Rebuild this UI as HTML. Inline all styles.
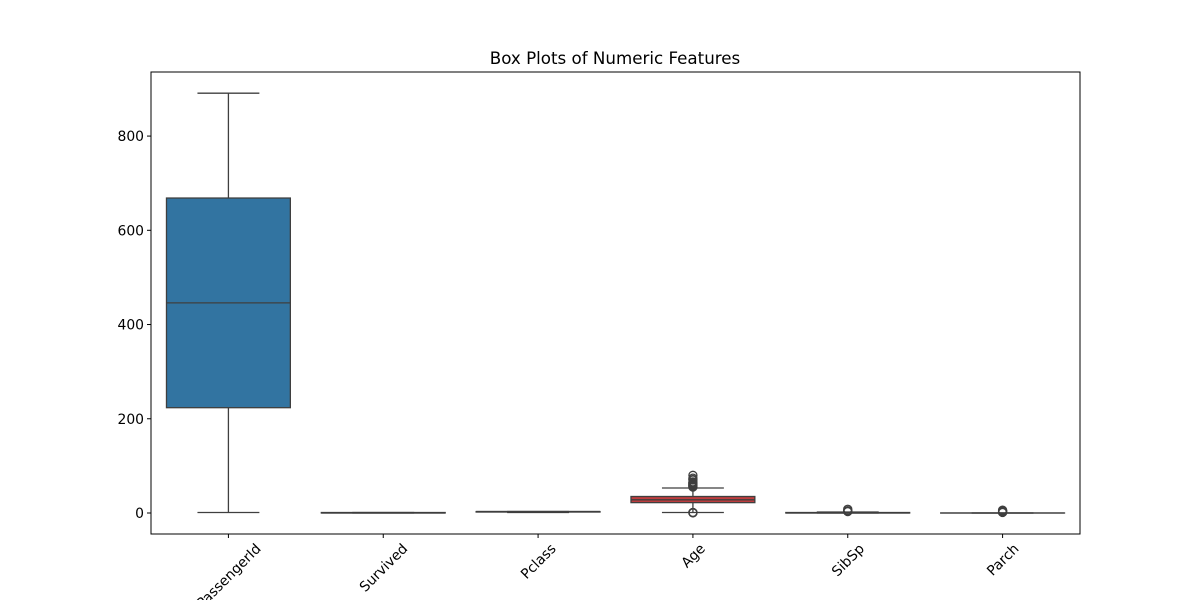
<!DOCTYPE html>
<html><head><meta charset="utf-8"><style>
body{margin:0;background:#fff}
svg{display:block;font-family:"DejaVu Sans","Liberation Sans",sans-serif}
</style></head><body>
<svg id="c" width="1200" height="600">
<rect width="1200" height="600" fill="#fff"/>
<text x="615" y="64" text-anchor="middle" font-size="16.7" fill="#000">Box Plots of Numeric Features</text>
</svg>
<script>
const categories=["PassengerId","Survived","Pclass","Age","SibSp","Parch"];
const q1=[223.5,0,2,22,0,0];
const med=[446,0,3,28,0,0];
const q3=[668.5,1,3,35,1,0];
const whisLo=[1,0,1,1,0,0];
const whisHi=[891,1,3,53,2,0];
const outliers=[[],[],[],[0.42,0.67,0.75,0.83,0.92,55,56,57,58,59,60,61,62,63,64,65,66,70,71,74,80],[3,4,5,8],[1,2,3,4,5,6]];
const colors=["#3274a1","#e1812c","#3a923a","#c03d3e","#9372b2","#845b53"];
const yTicks=[0,200,400,600,800];
const NS="http://www.w3.org/2000/svg";
const svg=document.getElementById('c');
const L=151,R=1080,T=72,B=534;
const y0v=-44.6,y1v=936;
const Y=v=>B-(v-y0v)/(y1v-y0v)*(B-T);
const step=(R-L)/categories.length;
const X=i=>L+step*(i+0.5);
function mk(tag,a,p){const e=document.createElementNS(NS,tag);for(const k in a)e.setAttribute(k,a[k]);(p||svg).appendChild(e);return e;}
const lc="#3f3f3f";
categories.forEach((c,i)=>{
  const g=mk('g',{});
  
  
  const cx=X(i),bw=step*0.8,cw=bw/2;
  mk('line',{x1:cx,x2:cx,y1:Y(q3[i]),y2:Y(whisHi[i]),stroke:lc,'stroke-width':1.3},g);
  mk('line',{x1:cx,x2:cx,y1:Y(q1[i]),y2:Y(whisLo[i]),stroke:lc,'stroke-width':1.3},g);
  mk('line',{x1:cx-cw/2,x2:cx+cw/2,y1:Y(whisHi[i]),y2:Y(whisHi[i]),stroke:lc,'stroke-width':1.3},g);
  mk('line',{x1:cx-cw/2,x2:cx+cw/2,y1:Y(whisLo[i]),y2:Y(whisLo[i]),stroke:lc,'stroke-width':1.3},g);
  const h=Math.max(Y(q1[i])-Y(q3[i]),0.01);
  mk('rect',{x:cx-bw/2,y:Y(q3[i]),width:bw,height:h,fill:colors[i],stroke:lc,'stroke-width':1.3},g);
  mk('line',{x1:cx-bw/2,x2:cx+bw/2,y1:Y(med[i]),y2:Y(med[i]),stroke:lc,'stroke-width':1.3},g);
  outliers[i].forEach(v=>{
    const o=mk('circle',{cx:cx,cy:Y(v),r:4,fill:'none',stroke:lc,'stroke-width':1.3},g);
    
    
  });
  mk('line',{x1:cx,x2:cx,y1:B,y2:B+4,stroke:'#000','stroke-width':1},svg);
  const t=mk('text',{'font-size':13.9,'text-anchor':'middle',fill:'#000'});
  t.textContent=c;
  
  
  const w=t.getComputedTextLength();
  const cy=B+7+(w*0.707+14*0.707)/2;
  t.setAttribute('transform',`translate(${cx},${cy}) rotate(-45)`);
  t.setAttribute('dy','5');
});
yTicks.forEach(v=>{
  mk('line',{x1:L-4,x2:L,y1:Y(v),y2:Y(v),stroke:'#000','stroke-width':1});
  const t=mk('text',{x:L-7,y:Y(v)+5,'font-size':13.9,'text-anchor':'end',fill:'#000'});
  t.textContent=v;
  
  
});
const f=mk('rect',{x:L,y:T,width:R-L,height:B-T,fill:'none',stroke:'#000','stroke-width':1});


</script>
</body></html>
